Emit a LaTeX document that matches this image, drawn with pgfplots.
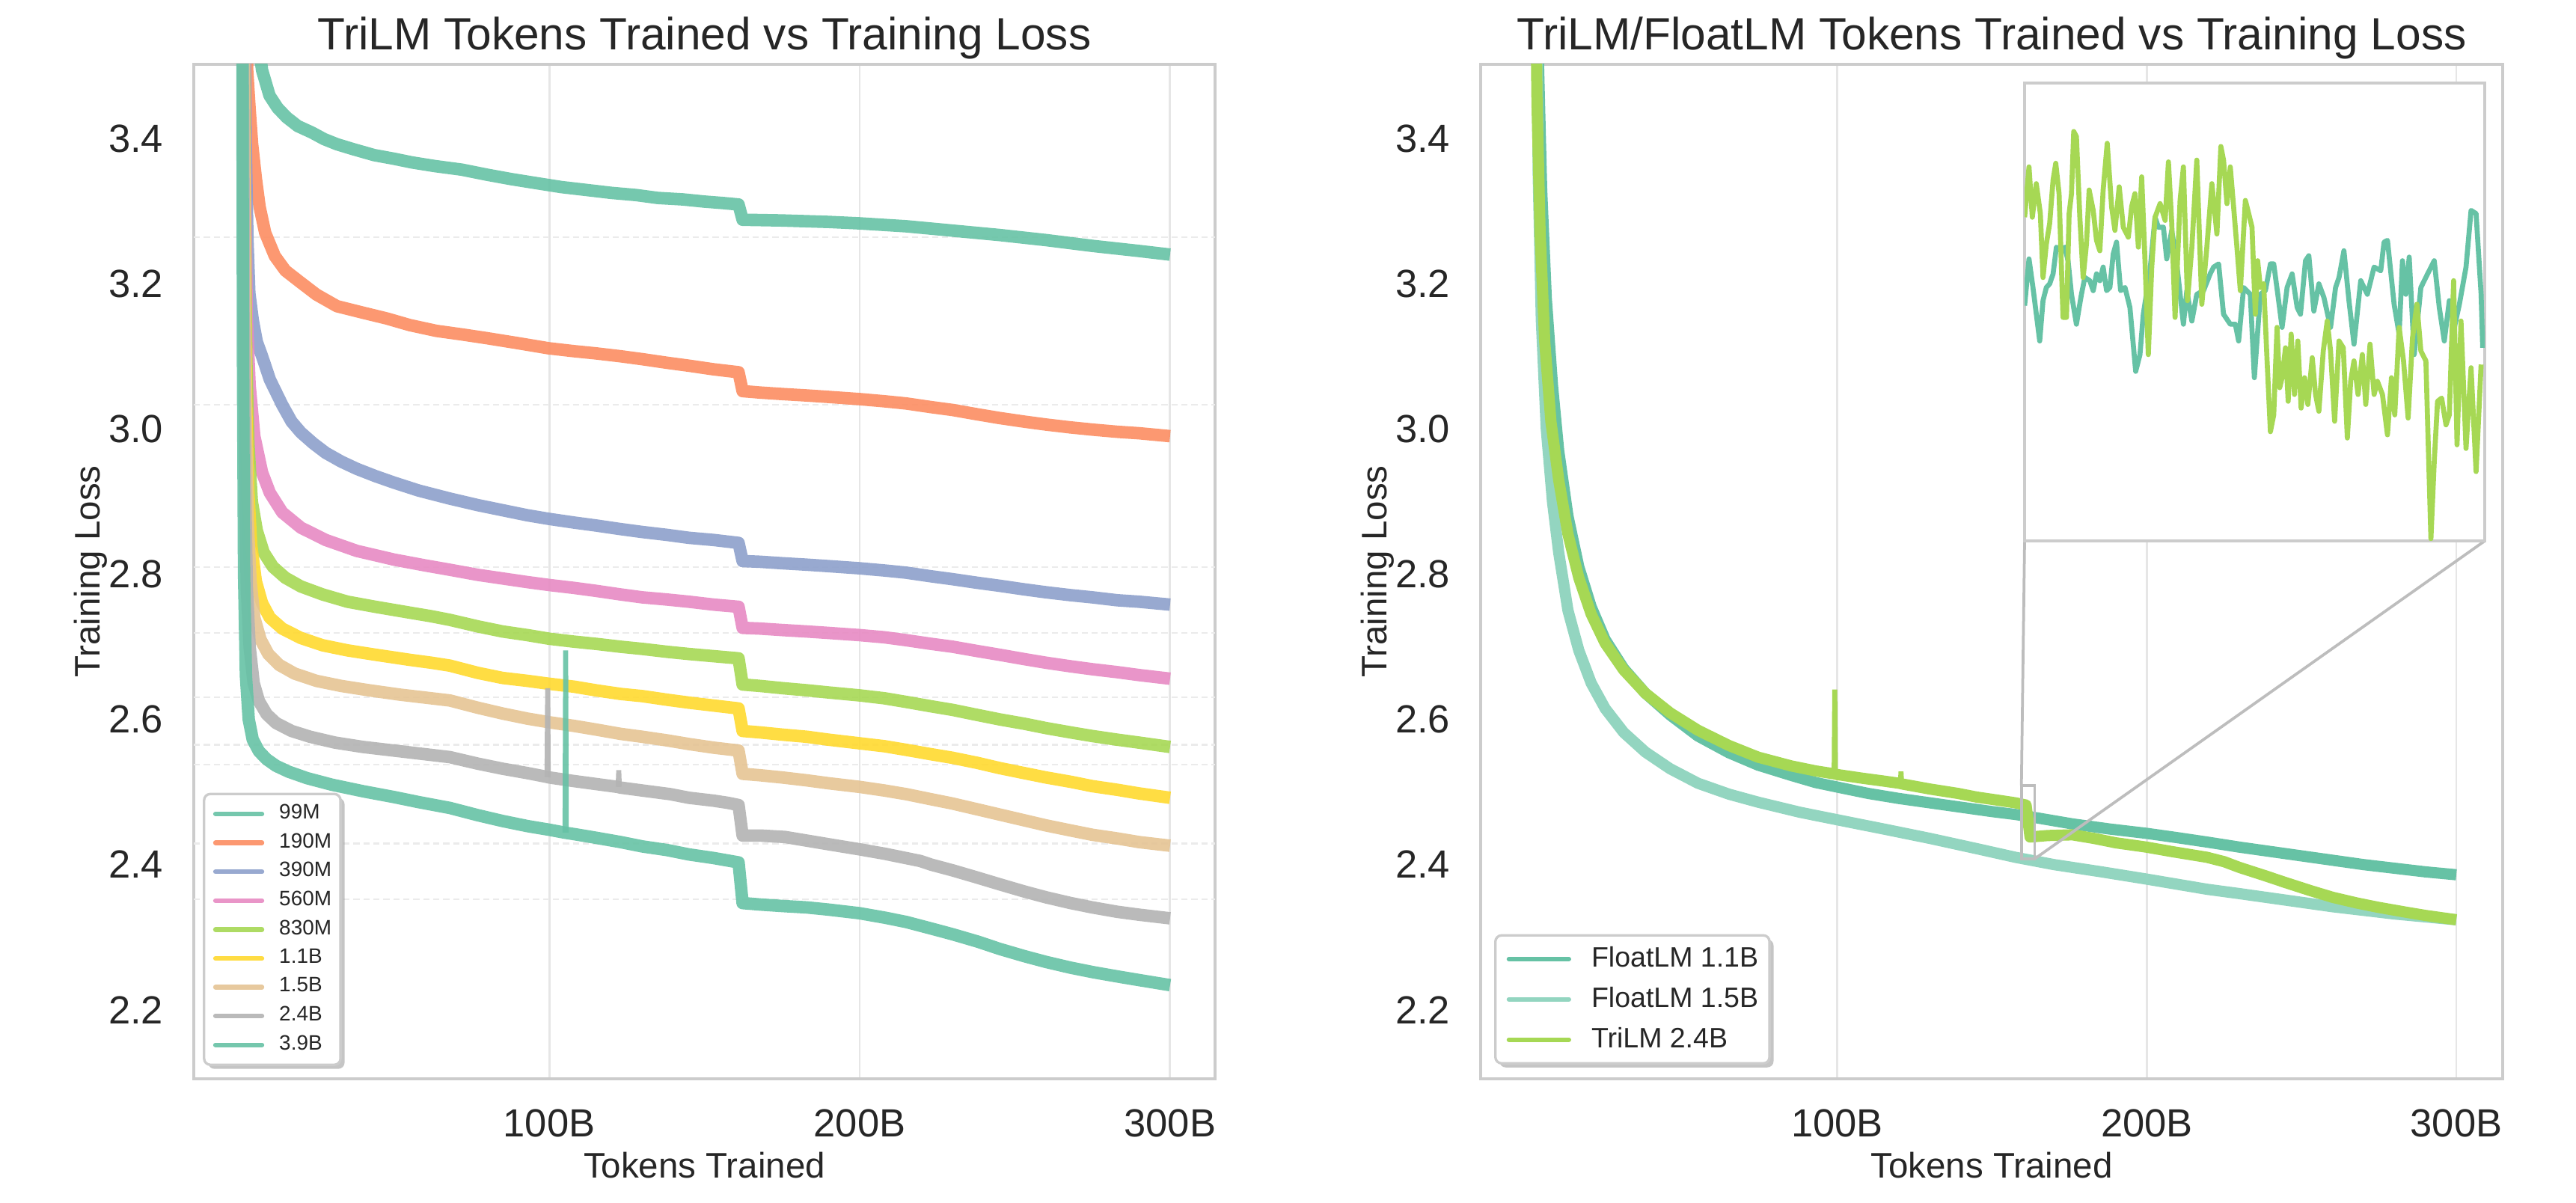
\documentclass[border=0pt]{standalone}
\usepackage{fontspec}
\setmainfont{Liberation Sans}
\usepackage{pgfplots}
\usepackage{pgfplotstable}
\pgfplotsset{compat=1.18}
\usetikzlibrary{shadows}
\makeatletter
\tikzset{nopreaction/.code={\let\tikz@preactions\pgfutil@empty}}
\makeatother
\definecolor{cA}{HTML}{66C2A5}
\definecolor{cB}{HTML}{FC8D62}
\definecolor{cC}{HTML}{8DA0CB}
\definecolor{cD}{HTML}{E78AC3}
\definecolor{cE}{HTML}{A6D854}
\definecolor{cF}{HTML}{FFD92F}
\definecolor{cG}{HTML}{E5C494}
\definecolor{cH}{HTML}{B3B3B3}
\definecolor{cL}{HTML}{93D5C0}
\definecolor{frame}{HTML}{CCCCCC}
\definecolor{gridc}{HTML}{E6E6E6}
\definecolor{txt}{HTML}{262626}
\definecolor{zoomc}{HTML}{BDBDBD}

\pgfplotstableread{
x y
1.25 3.75
1.6 3.2
2.0 2.93
2.6 2.78
3.5 2.70
4.8 2.65
6.5 2.625
9 2.607
12 2.595
17 2.584
23 2.576
31 2.568
40 2.562
50 2.557
60 2.552
68 2.548
77 2.539
85 2.532
93 2.526
99 2.521
100 2.520
108 2.515
115 2.511
122 2.507
123 2.506
130 2.502
139 2.497
145 2.492
153 2.488
157.6 2.485
161 2.482
162.3 2.440
168 2.440
176 2.438
183 2.433
190 2.428
200 2.421
208 2.415
219.5 2.405
223 2.400
230 2.392
238 2.382
245 2.373
253 2.363
260 2.355
268 2.347
275 2.341
283 2.335
290 2.331
300 2.326
}\tblB

\pgfplotstableread{
x y
2.2 3.75
3.0 3.45
4.0 3.27
5.5 3.12
7.5 3.01
10 2.93
13 2.855
16.5 2.795
20.5 2.745
25 2.705
31 2.668
38 2.636
46 2.609
55 2.585
65 2.564
74.4 2.548
85 2.536
93 2.529
99 2.525
100 2.524
108 2.519
115 2.515
120 2.512
121 2.511
130 2.504
139 2.498
145 2.493
153 2.488
157.6 2.485
161 2.482
162.3 2.438
168 2.440
176 2.441
183 2.436
190 2.430
200 2.424
208 2.418
219.5 2.410
225 2.404
230 2.396
238 2.385
245 2.375
253 2.364
260 2.355
268 2.347
275 2.341
283 2.335
290 2.330
300 2.324
}\tblR

\pgfplotsset{
  panel/.style={
    scale only axis, width=327.6pt, height=325.44pt,
    ymin=2.105, ymax=3.502,
    xtick={100,200,300}, xticklabels={100B,200B,300B},
    ytick={2.2,2.4,2.6,2.8,3.0,3.2,3.4},
    yticklabel style={/pgf/number format/.cd,fixed,fixed zerofill,precision=1,/tikz/.cd},
    /pgf/number format/assume math mode=true,
    tick label style={font=\fontsize{12.6pt}{15pt}\selectfont, text=txt, inner sep=0pt},
    xticklabel shift=9.6pt, yticklabel shift=9.6pt,
    major tick length=0pt,
    xmajorgrids, major grid style={color=gridc, line width=0.7pt},
    axis line style={color=frame, line width=1.1pt},
    every axis title/.style={font=\fontsize{14.5pt}{17pt}\selectfont, text=txt, at={(0.5,1)}, anchor=base, yshift=4.56pt},
    xlabel style={font=\fontsize{11.4pt}{14pt}\selectfont, text=txt, at={(axis description cs:0.5,-0.098)}, anchor=base},
    ylabel style={font=\fontsize{11.4pt}{14pt}\selectfont, text=txt, at={(axis description cs:-0.0916,0.5)}, anchor=base},
    xlabel={Tokens Trained}, ylabel={Training Loss},
    legend cell align=left,
  },
  curve/.style={line width=4pt, line join=round, opacity=0.9, #1},
  spike/.style={line width=1.6pt, opacity=0.9, forget plot, #1},
  hline/.style={forget plot, color=black!8, line width=0.5pt, dash pattern=on 2pt off 1.2pt},
}

\begin{document}
\begin{tikzpicture}
\useasboundingbox (0,0) rectangle (826.32pt,385.68pt);

% ---------------- Left panel ----------------
\begin{axis}[panel,
  at={(62.16pt,39.6pt)}, anchor=south west,
  xmin=-14.5, xmax=314.5,
  title={TriLM Tokens Trained vs Training Loss},
  legend style={at={(0.0089,0.0126)}, anchor=south west,
    font=\fontsize{6.7pt}{8pt}\selectfont, text=txt,
    draw=frame, line width=0.8pt, fill=white, rounded corners=2pt,
    drop shadow={shadow xshift=1.3pt, shadow yshift=-1.3pt, fill=black!45},
    inner xsep=2.9pt, inner ysep=3.3pt, row sep=3.1pt, column sep=4.8pt,
    nodes={inner sep=0pt}},
  legend image code/.code={\draw[nopreaction, #1, line width=1.5pt, line cap=round] (0pt,0pt) -- (14.9pt,0pt);},
]
\addplot[hline] coordinates {(-14.5,3.264) (314.5,3.264)};
\addplot[hline] coordinates {(-14.5,3.033) (314.5,3.033)};
\addplot[hline] coordinates {(-14.5,2.810) (314.5,2.810)};
\addplot[hline] coordinates {(-14.5,2.719) (314.5,2.719)};
\addplot[hline] coordinates {(-14.5,2.630) (314.5,2.630)};
\addplot[hline] coordinates {(-14.5,2.565) (314.5,2.565)};
\addplot[hline] coordinates {(-14.5,2.538) (314.5,2.538)};
\addplot[hline] coordinates {(-14.5,2.429) (314.5,2.429)};
\addplot[hline] coordinates {(-14.5,2.352) (314.5,2.352)};

% 99M
\addplot[curve={cA}] coordinates {
(4,3.66) (5.5,3.56) (7.5,3.494) (9.9,3.459) (12.5,3.442) (15.4,3.429) (19,3.417) (23.6,3.408)
(27.5,3.399) (31.6,3.392) (37,3.385) (43.6,3.377) (50,3.372) (55.7,3.367) (63,3.362) (71.8,3.357)
(80,3.350) (87.7,3.344) (95,3.339) (103.9,3.333) (112,3.329) (120,3.325) (128,3.322) (135,3.318)
(143,3.316) (150,3.313) (156,3.311) (161,3.309) (162.3,3.288) (175,3.287) (190,3.285) (200,3.283)
(215,3.279) (230,3.273) (245,3.267) (260,3.260) (275,3.252) (290,3.245) (300,3.240)};
\addlegendentry{99M}
% 190M
\addplot[curve={cB}] coordinates {
(1.8,3.75) (2.7,3.494) (3.5,3.44) (4.3,3.392) (5.5,3.345) (6.7,3.306) (8.5,3.27) (11.6,3.238)
(15,3.218) (19.5,3.203) (25,3.185) (31.6,3.169) (40,3.16) (47.7,3.152) (55,3.143) (63.6,3.135)
(72,3.13) (79.8,3.125) (90,3.118) (99.8,3.111) (108,3.107) (115,3.104) (123,3.100) (130,3.096)
(138,3.091) (145,3.087) (153,3.082) (161,3.078) (162.3,3.052) (168,3.050) (175,3.048) (183,3.046)
(190,3.044) (200,3.041) (208,3.038) (215,3.035) (223,3.030) (230,3.026) (238,3.020) (245,3.015)
(253,3.010) (260,3.006) (268,3.002) (275,2.999) (283,2.996) (290,2.994) (300,2.990)};
\addlegendentry{190M}
% 390M
\addplot[curve={cC}] coordinates {
(1.6,3.75) (2.2,3.4) (2.8,3.26) (3.4,3.187) (4.5,3.15) (5.8,3.12) (7.5,3.10) (10,3.068) (14,3.033)
(17,3.01) (20,2.995) (24,2.98) (28,2.967) (33,2.955) (38,2.945) (44,2.935) (50,2.926) (58,2.915)
(68,2.904) (77,2.895) (85,2.888) (93,2.881) (100,2.876) (108,2.871) (115,2.867) (123,2.862)
(130,2.858) (138,2.854) (145,2.85) (153,2.847) (161,2.843) (162.3,2.818) (168,2.817) (175,2.815)
(183,2.813) (190,2.811) (200,2.808) (208,2.805) (215,2.802) (223,2.797) (230,2.793) (238,2.788)
(245,2.784) (253,2.779) (260,2.775) (268,2.771) (275,2.768) (283,2.764) (290,2.762) (300,2.758)};
\addlegendentry{390M}
% 560M
\addplot[curve={cD}] coordinates {
(1.5,3.75) (2.0,3.35) (2.6,3.15) (3.5,3.06) (5,2.99) (7.5,2.94) (10,2.912) (14,2.885) (20,2.864)
(28,2.847) (38,2.832) (50,2.82) (60,2.812) (68,2.806) (77,2.799) (85,2.794) (93,2.789) (100,2.785)
(108,2.781) (115,2.777) (123,2.772) (130,2.768) (138,2.765) (145,2.762) (153,2.758) (161,2.755)
(162.3,2.726) (168,2.725) (175,2.723) (183,2.721) (190,2.719) (200,2.716) (208,2.713) (215,2.709)
(223,2.704) (230,2.70) (238,2.694) (245,2.689) (253,2.683) (260,2.678) (268,2.673) (275,2.669)
(283,2.665) (290,2.661) (300,2.656)};
\addlegendentry{560M}
% 830M
\addplot[curve={cE}] coordinates {
(1.4,3.75) (1.9,3.3) (2.4,3.1) (3.1,2.98) (4.2,2.9) (5.8,2.86) (8,2.83) (11,2.81) (15,2.795)
(20,2.783) (27,2.772) (35,2.762) (44,2.755) (55,2.747) (62,2.742) (68,2.737) (77,2.728) (85,2.721)
(93,2.716) (100,2.711) (108,2.707) (115,2.704) (123,2.70) (130,2.697) (138,2.693) (145,2.69)
(153,2.687) (161,2.684) (162.3,2.648) (168,2.646) (175,2.643) (183,2.64) (190,2.637) (200,2.633)
(208,2.629) (215,2.624) (223,2.618) (230,2.613) (238,2.606) (245,2.60) (253,2.594) (260,2.588)
(268,2.582) (275,2.577) (283,2.572) (290,2.568) (300,2.562)};
\addlegendentry{830M}
% 1.1B
\addplot[curve={cF}] coordinates {
(1.35,3.75) (1.8,3.3) (2.3,3.05) (3,2.92) (4,2.84) (5.5,2.79) (7.5,2.76) (10,2.74) (14,2.725)
(20,2.712) (27,2.702) (35,2.695) (44,2.689) (55,2.682) (62,2.678) (68,2.674) (77,2.664) (85,2.657)
(93,2.653) (100,2.649) (108,2.645) (115,2.64) (123,2.635) (130,2.632) (138,2.627) (145,2.623)
(153,2.619) (161,2.615) (162.3,2.584) (168,2.582) (175,2.579) (183,2.576) (190,2.572) (200,2.567)
(208,2.563) (215,2.558) (223,2.552) (230,2.547) (238,2.54) (245,2.533) (253,2.526) (260,2.52)
(268,2.514) (275,2.508) (283,2.503) (290,2.498) (300,2.492)};
\addlegendentry{1.1B}
% 1.5B
\addplot[curve={cG}] coordinates {
(1.3,3.75) (1.7,3.3) (2.2,3.02) (2.9,2.87) (3.8,2.79) (5,2.74) (7,2.71) (9.5,2.69) (13,2.675)
(18,2.663) (25,2.653) (33,2.646) (42,2.64) (52,2.634) (60,2.63) (68,2.626) (77,2.616) (85,2.608)
(93,2.601) (100,2.596) (108,2.591) (115,2.586) (123,2.58) (130,2.576) (138,2.571) (145,2.566)
(153,2.561) (161,2.557) (162.3,2.525) (168,2.523) (175,2.52) (183,2.516) (190,2.512) (200,2.507)
(208,2.502) (215,2.497) (223,2.49) (230,2.484) (238,2.476) (245,2.469) (253,2.461) (260,2.454)
(268,2.447) (275,2.441) (283,2.436) (290,2.431) (300,2.426)};
\addlegendentry{1.5B}
% 2.4B
\addplot[curve={cH}] table[x=x,y=y] {\tblB};
\addlegendentry{2.4B}
\addplot[spike={cH}] coordinates {(99.3,2.520) (99.5,2.643) (99.7,2.520)};
\addplot[spike={cH}] coordinates {(122.2,2.507) (122.4,2.530) (122.6,2.507)};
% 3.9B
\addplot[curve={cA}] coordinates {
(1.1,3.75) (1.35,3.1) (1.7,2.8) (2.3,2.66) (3.2,2.6) (4.5,2.572) (6.5,2.556) (9,2.545) (12,2.536)
(16,2.528) (22,2.519) (30,2.51) (40,2.501) (50,2.493) (58,2.486) (68,2.478) (77,2.468) (85,2.46)
(93,2.453) (100,2.448) (105,2.444) (108,2.442) (115,2.437) (123,2.431) (130,2.425) (138,2.42)
(145,2.414) (153,2.409) (161,2.403) (162.3,2.347) (168,2.345) (175,2.343) (183,2.341) (190,2.338)
(200,2.333) (208,2.327) (215,2.321) (223,2.312) (230,2.304) (238,2.294) (245,2.284) (253,2.274)
(260,2.266) (268,2.258) (275,2.252) (283,2.246) (290,2.241) (300,2.234)};
\addlegendentry{3.9B}
\addplot[spike={cA}] coordinates {(105.1,2.444) (105.3,2.695) (105.5,2.444)};
\end{axis}

% ---------------- Right panel ----------------
\begin{axis}[panel,
  at={(474.96pt,39.6pt)}, anchor=south west, width=327.84pt,
  xmin=-15.2, xmax=315,
  title={TriLM/FloatLM Tokens Trained vs Training Loss},
  legend style={at={(0.0132,0.014)}, anchor=south west,
    font=\fontsize{9pt}{11pt}\selectfont, text=txt,
    draw=frame, line width=0.8pt, fill=white, rounded corners=2pt,
    drop shadow={shadow xshift=1.3pt, shadow yshift=-1.3pt, fill=black!45},
    inner xsep=3.6pt, inner ysep=3.6pt, row sep=4.9pt, column sep=6.5pt,
    nodes={inner sep=0pt}},
  legend image code/.code={\draw[nopreaction, #1, line width=1.5pt, line cap=round] (0pt,0pt) -- (19.2pt,0pt);},
]
\addplot[curve={cA}, line width=3.6pt, opacity=1] coordinates {
(2.5,3.75) (3.5,3.5) (4.5,3.33) (6,3.18) (8,3.06) (10,2.97) (13,2.88) (16.5,2.81) (20.5,2.755)
(25,2.71) (31,2.67) (38,2.636) (46,2.606) (55,2.577) (65,2.554) (74.4,2.537) (85,2.523)
(93,2.513) (102,2.505) (110,2.498) (120,2.491) (130,2.485) (140,2.479) (150,2.473) (157.6,2.469)
(165,2.464) (176,2.456) (188,2.449) (200,2.443) (210,2.437) (219.5,2.431) (230,2.424) (240,2.418)
(250,2.412) (260,2.406) (270,2.400) (280,2.395) (290,2.390) (300,2.386)};
\addlegendentry{FloatLM 1.1B}
\addplot[curve={cL}, line width=3.6pt, opacity=1] coordinates {
(2.5,3.75) (3.4,3.35) (4.4,3.15) (6,3.0) (8,2.9) (10,2.83) (13,2.75) (16.5,2.695) (20.5,2.65)
(25,2.615) (31,2.582) (38,2.555) (46,2.532) (55,2.512) (65,2.497) (74.4,2.486) (88,2.472)
(102,2.46) (115,2.449) (130,2.436) (145,2.422) (157.6,2.41) (170,2.40) (185.4,2.39) (200,2.38)
(219.5,2.366) (230,2.36) (240,2.354) (250,2.348) (260,2.342) (270,2.337) (280,2.332) (290,2.328)
(300,2.324)};
\addlegendentry{FloatLM 1.5B}
\addplot[curve={cE}, line width=3.6pt, opacity=1] table[x=x,y=y] {\tblR};
\addlegendentry{TriLM 2.4B}
\addplot[spike={cE}, opacity=1] coordinates {(99.0,2.525) (99.2,2.641) (99.4,2.525)};
\addplot[spike={cE}, opacity=1] coordinates {(120.4,2.512) (120.6,2.528) (120.8,2.512)};
\draw[zoomc, line width=0.9pt] (axis cs:159.5,2.408) rectangle (axis cs:163.8,2.509);
\draw[zoomc, line width=0.9pt] (axis cs:159.5,2.509) -- (rel axis cs:0.5322,0.5302);
\draw[zoomc, line width=0.9pt] (axis cs:163.8,2.408) -- (rel axis cs:0.9824,0.5302);
\end{axis}

% ---------------- Inset ----------------
\begin{axis}[
  at={(649.44pt,212.16pt)}, anchor=south west,
  scale only axis, width=147.6pt, height=146.88pt,
  xmin=159.5, xmax=163.8, ymin=2.408, ymax=2.509,
  xtick=\empty, ytick=\empty,
  axis line style={color=frame, line width=1.1pt},
  axis background/.style={fill=white},
]
\addplot[cA, line width=1.6pt, line join=round] coordinates {
(159.500,2.4599) (159.541,2.4702) (159.578,2.4639) (159.625,2.4551) (159.641,2.4521) (159.672,2.4610)
(159.703,2.4639) (159.734,2.4647) (159.766,2.4669) (159.797,2.4728) (159.844,2.4720) (159.875,2.4728)
(159.906,2.4698) (159.938,2.4624) (159.984,2.4558) (160.031,2.4624) (160.063,2.4661) (160.109,2.4654)
(160.141,2.4632) (160.172,2.4669) (160.203,2.4654) (160.234,2.4684) (160.266,2.4632) (160.297,2.4639)
(160.328,2.4713) (160.359,2.4739) (160.397,2.4632) (160.438,2.4639) (160.484,2.4595) (160.538,2.4454)
(160.578,2.4491) (160.609,2.4580) (160.672,2.4676) (160.719,2.4794) (160.750,2.4772) (160.797,2.4772)
(160.828,2.4702) (160.875,2.4765) (160.922,2.4691) (160.984,2.4558) (161.016,2.4632) (161.063,2.4565)
(161.109,2.4624) (161.172,2.4632) (161.234,2.4669) (161.266,2.4684) (161.313,2.4691) (161.359,2.4580)
(161.422,2.4558) (161.469,2.4558) (161.500,2.4521) (161.547,2.4639) (161.609,2.4624) (161.647,2.4440)
(161.703,2.4624) (161.750,2.4632) (161.797,2.4691) (161.828,2.4691) (161.866,2.4624) (161.906,2.4551)
(161.953,2.4639) (162.000,2.4669) (162.047,2.4595) (162.078,2.4580) (162.125,2.4698) (162.156,2.4709)
(162.203,2.4587) (162.250,2.4647) (162.297,2.4617) (162.359,2.4551) (162.406,2.4639) (162.438,2.4661)
(162.484,2.4720) (162.531,2.4610) (162.578,2.4514) (162.641,2.4654) (162.703,2.4624) (162.766,2.4684)
(162.828,2.4676) (162.859,2.4739) (162.891,2.4743) (162.953,2.4602) (163.000,2.4536) (163.031,2.4698)
(163.063,2.4624) (163.094,2.4706) (163.141,2.4491) (163.203,2.4639) (163.266,2.4669) (163.328,2.4698)
(163.375,2.4595) (163.422,2.4521) (163.469,2.4610) (163.516,2.4551) (163.563,2.4602) (163.625,2.4684)
(163.672,2.4809) (163.719,2.4802) (163.766,2.4624) (163.781,2.4506)};
\addplot[cE, line width=1.6pt, line join=round] coordinates {
(159.500,2.4794) (159.541,2.4905) (159.572,2.4794) (159.609,2.4868) (159.647,2.4802) (159.672,2.4661)
(159.703,2.4735) (159.734,2.4780) (159.766,2.4876) (159.791,2.4913) (159.822,2.4846) (159.859,2.4573)
(159.891,2.4573) (159.916,2.4802) (159.938,2.4846) (159.959,2.4983) (159.984,2.4972) (160.016,2.4794)
(160.047,2.4661) (160.078,2.4735) (160.103,2.4854) (160.141,2.4809) (160.172,2.4743) (160.203,2.4720)
(160.234,2.4854) (160.272,2.4957) (160.313,2.4817) (160.344,2.4765) (160.384,2.4861) (160.422,2.4772)
(160.469,2.4750) (160.500,2.4817) (160.531,2.4846) (160.563,2.4728) (160.594,2.4883) (160.625,2.4698)
(160.656,2.4491) (160.688,2.4684) (160.719,2.4794) (160.766,2.4824) (160.813,2.4787) (160.844,2.4916)
(160.875,2.4780) (160.906,2.4573) (160.953,2.4831) (160.984,2.4905) (161.022,2.4610) (161.063,2.4728)
(161.109,2.4920) (161.156,2.4602) (161.203,2.4728) (161.250,2.4868) (161.297,2.4757) (161.334,2.4950)
(161.359,2.4920) (161.391,2.4824) (161.422,2.4905) (161.453,2.4817) (161.484,2.4728) (161.516,2.4632)
(161.563,2.4831) (161.594,2.4802) (161.625,2.4772) (161.656,2.4580) (161.678,2.4698) (161.703,2.4639)
(161.734,2.4647) (161.766,2.4477) (161.797,2.4321) (161.828,2.4358) (161.859,2.4551) (161.884,2.4418)
(161.906,2.4440) (161.938,2.4506) (161.963,2.4388) (161.991,2.4536) (162.022,2.4403) (162.053,2.4521)
(162.084,2.4373) (162.116,2.4440) (162.147,2.4381) (162.188,2.4484) (162.219,2.4403) (162.250,2.4366)
(162.291,2.4499) (162.328,2.4565) (162.359,2.4499) (162.397,2.4344) (162.438,2.4521) (162.478,2.4506)
(162.516,2.4307) (162.547,2.4432) (162.578,2.4477) (162.616,2.4403) (162.656,2.4491) (162.688,2.4381)
(162.728,2.4514) (162.766,2.4403) (162.797,2.4432) (162.844,2.4403) (162.891,2.4314) (162.928,2.4440)
(162.959,2.4358) (163.000,2.4551) (163.041,2.4477) (163.084,2.4351) (163.125,2.4528) (163.166,2.4602)
(163.203,2.4499) (163.250,2.4477) (163.297,2.4085) (163.328,2.4255) (163.359,2.4388) (163.397,2.4395)
(163.438,2.4336) (163.469,2.4358) (163.509,2.4654) (163.541,2.4292) (163.578,2.4565) (163.625,2.4284)
(163.672,2.4462) (163.719,2.4233) (163.766,2.4469)};
\end{axis}
\end{tikzpicture}
\end{document}
